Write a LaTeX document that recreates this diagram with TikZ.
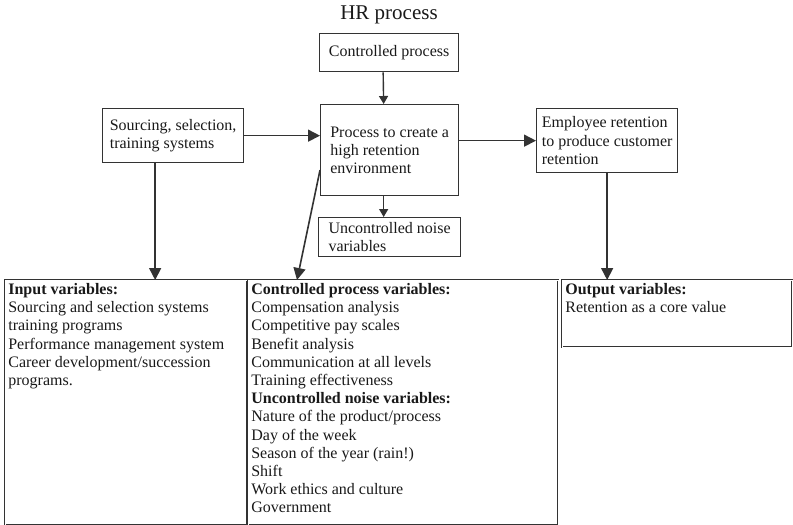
\documentclass[tikz,border=0pt]{standalone}
\usepackage{fontspec}
\setmainfont{Liberation Serif}
\usetikzlibrary{arrows.meta}

\begin{document}
\begin{tikzpicture}[x=1pt, y=-1pt, color=black!90,
        box/.style={draw=black!80, line width=1.3pt, align=left, inner sep=2pt, anchor=north west, font=\fontsize{16}{18.2}\selectfont},
        varbox/.style={draw=black!80, double, double distance=0.8pt, line width=0.7pt, inner sep=3pt, anchor=north west, font=\fontsize{16}{18.2}\selectfont},
        arr/.style={draw=black!80, line width=1.6pt, -{Triangle[length=12pt,width=12pt]}},
        sarr/.style={draw=black!80, line width=1.4pt, -{Triangle[length=8pt,width=9pt]}}]
        \useasboundingbox (0,0) rectangle (793,525);
        \node[font=\fontsize{21}{24}\selectfont] (title) at (389,15) {HR process};
        \node[box, minimum width=139pt, minimum height=38pt] (ctrl) at (319,33) {Controlled process};
        \node[box, minimum width=141pt, minimum height=54pt] (src) at (102,108) {Sourcing, selection,\\training systems};
        \node[box, minimum width=138pt, minimum height=91pt] (proc) at (320,104) {Process to create a\\high retention\\environment};
        \node[box, minimum width=141pt, minimum height=64pt] (emp) at (536,108) {Employee retention\\to produce customer\\retention};
        \node[box, minimum width=142pt, minimum height=39pt] (noise) at (318,217) {Uncontrolled noise\\variables};
        \node[varbox] (inp) at (5,280) {\begin{minipage}[t][239pt][t]{236pt}
            \textbf{Input variables:}\\
            Sourcing and selection systems\\
            training programs\\
            Performance management system\\
            Career development/succession\\
            programs.
        \end{minipage}};
        \node[varbox] (cvar) at (248,280) {\begin{minipage}[t][239pt][t]{304pt}
            \textbf{Controlled process variables:}\\
            Compensation analysis\\
            Competitive pay scales\\
            Benefit analysis\\
            Communication at all levels\\
            Training effectiveness\\
            \textbf{Uncontrolled noise variables:}\\
            Nature of the product/process\\
            Day of the week\\
            Season of the year (rain!)\\
            Shift\\
            Work ethics and culture\\
            Government
        \end{minipage}};
        \node[varbox] (out) at (562,280) {\begin{minipage}[t][61pt][t]{224pt}
            \textbf{Output variables:}\\
            Retention as a core value
        \end{minipage}};
        \draw[sarr] ([xshift=-6pt]ctrl.south) -- ([xshift=-6pt]proc.north);
        \draw[arr] (src.east) -- (src.east -| proc.west);
        \draw[arr] (emp.west -| proc.east) -- (emp.west);
        \draw[sarr] ([xshift=-6pt]proc.south) -- ([xshift=-6pt]noise.north);
        \draw[arr] ([xshift=-18pt]src.south) -- ([xshift=-18pt]src.south |- inp.north);
        \draw[arr] ([yshift=-20pt]proc.west) -- ([xshift=49pt]cvar.north west);
        \draw[arr] (emp.south) -- (emp.south |- out.north);
    \end{tikzpicture}
\end{document}
